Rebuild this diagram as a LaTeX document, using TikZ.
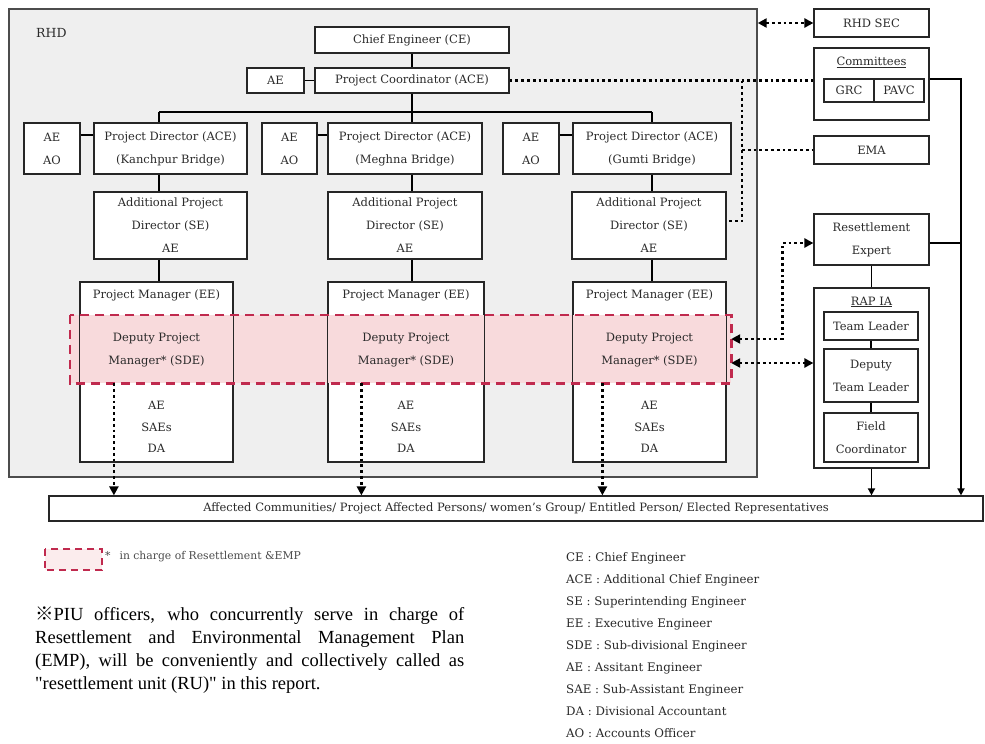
\documentclass[tikz,border=0pt]{standalone}
\usepackage{fontspec}
\setmainfont{DejaVu Serif}
\newfontfamily\timesf{Liberation Serif}
\newfontfamily\cjkf{Noto Sans CJK JP}
\usetikzlibrary{arrows.meta,calc}
\definecolor{rhdgray}{HTML}{EFEFEF}
\definecolor{pinkfill}{HTML}{F8DADC}
\definecolor{reddash}{HTML}{C02A4E}
\definecolor{txt}{HTML}{2A2A2A}
\newcommand{\boxfont}{\fontsize{11.5}{23}\selectfont}
\newcommand{\stafffont}{\fontsize{11.5}{21.5}\selectfont}
\begin{document}
\begin{tikzpicture}[x=1pt,y=-1pt,
  rhdbox/.style={draw=black!70, line width=1.4pt, fill=rhdgray, inner sep=0pt},
  box/.style={draw=black!85, line width=1.2pt, fill=white, inner sep=0pt, align=center, font=\boxfont, text=txt},
  lbl/.style={inner sep=0pt, align=center, font=\boxfont, text=txt},
  conn/.style={line width=1.8pt, black},
  dots/.style={line width=2.8pt, dash pattern=on 2.8pt off 3pt},
  dotarrow/.style={dots, -{Triangle[length=9pt,width=9pt]}},
  dotboth/.style={dots, {Triangle[length=9pt,width=9pt]}-{Triangle[length=9pt,width=9pt]}},
  solarrow/.style={conn, -{Triangle[length=7pt,width=7pt]}},
  reddashed/.style={draw=reddash, line width=2.6pt, dash pattern=on 9pt off 6pt}
]
\useasboundingbox (0,0) rectangle (985,744);
\fill[white] (0,0) rectangle (985,744);

% RHD frame
\node[rhdbox, minimum width=748pt, minimum height=468pt] (rhd) at (383,243) {};
\node[anchor=west, lbl, font=\fontsize{12.5}{14}\selectfont] (rhdlabel) at (36,33) {RHD};

% top
\node[box, minimum width=194pt, minimum height=26pt] (ce) at (412,40) {Chief Engineer (CE)};
\node[box, minimum width=194pt, minimum height=25pt] (pc) at (412,80.5) {Project Coordinator (ACE)};
\node[box, minimum width=57pt, minimum height=25pt] (aepc) at (275.5,80.5) {AE};

% project directors
\node[box, minimum width=56pt, minimum height=51pt] (aoK) at (52,148.5) {AE\\AO};
\node[box, minimum width=153pt, minimum height=51pt] (pdK) at (170.5,148.5) {Project Director (ACE)\\(Kanchpur Bridge)};
\node[box, minimum width=55pt, minimum height=51pt] (aoM) at (289.5,148.5) {AE\\AO};
\node[box, minimum width=154pt, minimum height=51pt] (pdM) at (405,148.5) {Project Director (ACE)\\(Meghna Bridge)};
\node[box, minimum width=56pt, minimum height=51pt] (aoG) at (531,148.5) {AE\\AO};
\node[box, minimum width=158pt, minimum height=51pt] (pdG) at (652,148.5) {Project Director (ACE)\\(Gumti Bridge)};

% additional project directors
\node[box, minimum width=153pt, minimum height=67pt] (apdK) at (170.5,225.5) {Additional Project\\Director (SE)\\AE};
\node[box, minimum width=154pt, minimum height=67pt] (apdM) at (405,225.5) {Additional Project\\Director (SE)\\AE};
\node[box, minimum width=154pt, minimum height=67pt] (apdG) at (649,225.5) {Additional Project\\Director (SE)\\AE};

% project manager boxes
\node[box, minimum width=153pt, minimum height=180pt] (pmK) at (156.5,372) {};
\node[box, minimum width=156pt, minimum height=180pt] (pmM) at (406,372) {};
\node[box, minimum width=153pt, minimum height=180pt] (pmG) at (649.5,372) {};

% resettlement unit band
\node[inner sep=0pt, fill=pinkfill, minimum width=661pt, minimum height=68pt] (ru) at (400.5,349) {};
\draw[draw=black!85, line width=1.2pt] (pmK.north west) rectangle (pmK.south east);
\draw[draw=black!85, line width=1.2pt] (pmM.north west) rectangle (pmM.south east);
\draw[draw=black!85, line width=1.2pt] (pmG.north west) rectangle (pmG.south east);
\draw[reddashed] (ru.north west) rectangle (ru.south east);

\node[lbl] (pmtK) at (156.5,295) {Project Manager (EE)};
\node[lbl] (pmtM) at (406,295) {Project Manager (EE)};
\node[lbl] (pmtG) at (649.5,295) {Project Manager (EE)};
\node[lbl] (dpmK) at (156.5,350.5) {Deputy Project\\Manager* (SDE)};
\node[lbl] (dpmM) at (406,350.5) {Deputy Project\\Manager* (SDE)};
\node[lbl] (dpmG) at (649.5,350.5) {Deputy Project\\Manager* (SDE)};
\node[lbl, font=\stafffont] (stK) at (156.5,427) {AE\\SAEs\\DA};
\node[lbl, font=\stafffont] (stM) at (406,427) {AE\\SAEs\\DA};
\node[lbl, font=\stafffont] (stG) at (649.5,427) {AE\\SAEs\\DA};

% right column
\node[box, minimum width=115pt, minimum height=28pt] (rhdsec) at (871.5,23) {RHD SEC};
\node[box, minimum width=115pt, minimum height=72pt] (comm) at (871.5,84) {};
\node[lbl] (commlbl) at (871.5,62) {\underline{Committees}};
\node[box, minimum width=50pt, minimum height=23pt] (grc) at (849,90.5) {GRC};
\node[box, minimum width=50pt, minimum height=23pt] (pavc) at (899,90.5) {PAVC};
\node[box, minimum width=115pt, minimum height=28pt] (ema) at (871.5,150) {EMA};
\node[box, minimum width=115pt, minimum height=51pt] (resexp) at (871.5,239.5) {Resettlement\\Expert};
\node[box, minimum width=115pt, minimum height=180pt] (rapia) at (871.5,378) {};
\node[lbl] (rapialbl) at (871.5,302) {\underline{RAP IA}};
\node[box, minimum width=94pt, minimum height=28pt] (tl) at (871,326) {Team Leader};
\node[box, minimum width=94pt, minimum height=53pt] (dtl) at (871,375.5) {Deputy\\Team Leader};
\node[box, minimum width=94pt, minimum height=49pt] (fc) at (871,437.5) {Field\\Coordinator};

% affected
\node[box, minimum width=934pt, minimum height=25pt, font=\fontsize{11.5}{13}\selectfont] (aff) at (516,508.5) {Affected Communities/ Project Affected Persons/ women's Group/ Entitled Person/ Elected Representatives};

% solid connectors
\draw[conn] (ce.south) -- (pc.north);
\draw[conn] (aepc.east) -- (pc.west);
\coordinate (bK) at (159,112);
\coordinate (bM) at (412,112);
\coordinate (bG) at (652,112);
\draw[conn] (bK) -- (bG);
\draw[conn] (pc.south) -- (bM);
\draw[conn] (bK) -- (bK |- pdK.north);
\draw[conn] (bM) -- (bM |- pdM.north);
\draw[conn] (bG) -- (bG |- pdG.north);
\draw[conn] (bK |- pdK.south) -- (bK |- apdK.north);
\draw[conn] (bM |- pdM.south) -- (bM |- apdM.north);
\draw[conn] (bG |- pdG.south) -- (bG |- apdG.north);
\draw[conn] (bK |- apdK.south) -- (bK |- pmK.north);
\draw[conn] (bM |- apdM.south) -- (bM |- pmM.north);
\draw[conn] (bG |- apdG.south) -- (bG |- pmG.north);
\coordinate (aoKc) at ([yshift=13.5pt]aoK.east);
\coordinate (aoMc) at ([yshift=13.5pt]aoM.east);
\coordinate (aoGc) at ([yshift=13.5pt]aoG.east);
\draw[conn] (aoKc) -- (aoKc -| pdK.west);
\draw[conn] (aoMc) -- (aoMc -| pdM.west);
\draw[conn] (aoGc) -- (aoGc -| pdG.west);

% dotted connectors
\draw[dots] (pc.east) -- (pc.east -| comm.west);
\coordinate (tee) at (742,80.5);
\coordinate (apdGe) at ([yshift=4.5pt]apdG.east);
\draw[dots] (tee) |- (apdGe);
\draw[dots] (tee |- ema.west) -- (ema.west);
\draw[dotboth] (rhd.east |- rhdsec.west) -- (rhdsec.west);
\coordinate (sK) at ([xshift=34.5pt]pmK.west);
\coordinate (sM) at ([xshift=34pt]pmM.west);
\coordinate (sG) at ([xshift=30pt]pmG.west);
\draw[dotarrow] (sK |- ru.south) -- (sK |- aff.north);
\draw[dotarrow] (sM |- ru.south) -- (sM |- aff.north);
\draw[dotarrow] (sG |- ru.south) -- (sG |- aff.north);
\coordinate (ruA) at ([yshift=10pt]ru.east);
\coordinate (ruB) at ([yshift=-14pt]ru.east);
\coordinate (rbend) at ([xshift=-31pt,yshift=-3.5pt]resexp.west);
\coordinate (resin) at ([yshift=-3.5pt]resexp.west);
\draw[dotboth] (ruA) -| (rbend) -- (resin);
\draw[dotboth] (ruB) -- (ruB -| rapia.west);

% right solid connectors
\coordinate (rx) at (961,79);
\draw[solarrow] (rx -| comm.east) -- (rx) -- (rx |- aff.north);
\coordinate (rese) at ([yshift=-3.5pt]resexp.east);
\draw[conn] (rese) -- (rese -| rx);
\draw[conn] (resexp.south) -- (rapia.north);
\draw[conn] (tl.south) -- (dtl.north);
\draw[conn] (dtl.south) -- (fc.north);
\draw[solarrow] (rapia.south) -- (rapia.south |- aff.north);

% legend
\node[inner sep=0pt, fill=pinkfill!50, minimum width=57pt, minimum height=21pt] (leg) at (73.5,559.5) {};
\draw[draw=reddash, line width=2.4pt, dash pattern=on 7pt off 5pt] (leg.north west) rectangle (leg.south east);
\node[anchor=west, inner sep=0pt, font=\fontsize{10.8}{12}\selectfont, text=black!70] (legt) at (105,557) {*\hspace{9pt}in charge of Resettlement \&EMP};

% note paragraph
\node[anchor=north west, inner sep=0pt, text width=429pt, align=left, font=\timesf\fontsize{18.5}{23}\selectfont] (note) at (35,607) {\spaceskip=0pt\xspaceskip=0pt\relax
\makebox[429pt][s]{{\cjkf ※}PIU officers, who concurrently serve in charge of}\\\makebox[429pt][s]{Resettlement and Environmental Management Plan}\\\makebox[429pt][s]{(EMP), will be conveniently and collectively called as}\\"resettlement unit (RU)" in this report.};

% abbreviations
\node[anchor=north west, inner sep=0pt, align=left, font=\fontsize{11.8}{22}\selectfont, text=txt] (abbr) at (566,552) {CE : Chief Engineer\\ACE : Additional Chief Engineer\\SE : Superintending Engineer\\EE : Executive Engineer\\SDE : Sub-divisional Engineer\\AE : Assitant Engineer\\SAE : Sub-Assistant Engineer\\DA : Divisional Accountant\\AO : Accounts Officer};
\end{tikzpicture}
\end{document}
